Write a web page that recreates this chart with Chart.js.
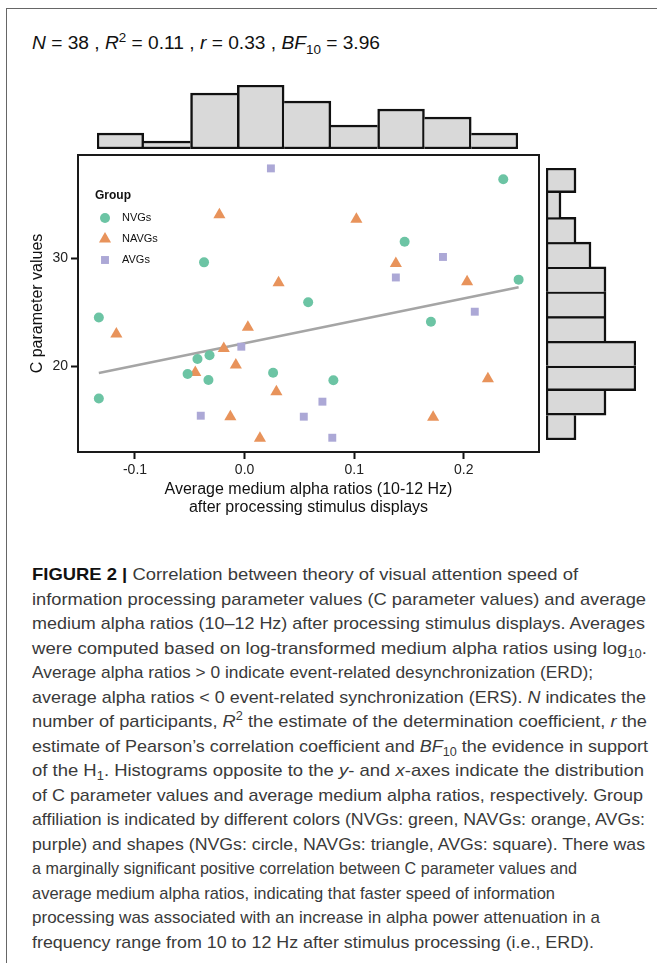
<!DOCTYPE html>
<html>
<head>
<meta charset="utf-8">
<script src="https://cdn.jsdelivr.net/npm/chart.js@4.4.0/dist/chart.umd.min.js"></script>
<style>
    body { margin: 0; width: 657px; height: 963px; background: #fff; position: relative; overflow: hidden; font-family: "Liberation Sans", Arial, sans-serif; }
    #frame { position: absolute; left: 6px; top: 8px; width: 660px; height: 970px; border-left: 1px solid #666; border-top: 1px solid #666; }
    canvas { position: absolute; }
    #stats { position: absolute; left: 32px; top: 32px; font-size: 18px; line-height: 22px; color: #111; white-space: nowrap; transform-origin: 0 0; }
    #stats sup, #stats sub, #caption sup, #caption sub { font-size: 70%; line-height: 0; }
    #caption { position: absolute; left: 32px; top: 563px; font-size: 17px; line-height: 24.5px; color: #3a3a3a; }
    #caption div { white-space: nowrap; height: 24.5px; }
    #caption span { display: inline-block; transform-origin: 0 0; }
    #caption b { color: #111; }
</style>
</head>
<body>
<div id="frame"></div>
<div id="stats"><i>N</i> = 38 , <i>R</i><sup>2</sup> = 0.11 , <i>r</i> = 0.33 , <i>BF</i><sub>10</sub> = 3.96</div>
<canvas id="topHist" width="421" height="64" style="left:97px;top:85px"></canvas>
<canvas id="rightHist" width="90" height="272" style="left:546px;top:168px"></canvas>
<canvas id="scatter" width="657" height="400" style="left:0;top:130px"></canvas>
<div id="caption">
    <div><span><b>FIGURE 2 |</b> Correlation between theory of visual attention speed of</span></div>
    <div><span>information processing parameter values (C parameter values) and average</span></div>
    <div><span>medium alpha ratios (10–12 Hz) after processing stimulus displays. Averages</span></div>
    <div><span>were computed based on log-transformed medium alpha ratios using log<sub>10</sub>.</span></div>
    <div><span>Average alpha ratios &gt; 0 indicate event-related desynchronization (ERD);</span></div>
    <div><span>average alpha ratios &lt; 0 event-related synchronization (ERS). <i>N</i> indicates the</span></div>
    <div><span>number of participants, <i>R</i><sup>2</sup> the estimate of the determination coefficient, <i>r</i> the</span></div>
    <div><span>estimate of Pearson’s correlation coefficient and <i>BF</i><sub>10</sub> the evidence in support</span></div>
    <div><span>of the H<sub>1</sub>. Histograms opposite to the <i>y</i>- and <i>x</i>-axes indicate the distribution</span></div>
    <div><span>of C parameter values and average medium alpha ratios, respectively. Group</span></div>
    <div><span>affiliation is indicated by different colors (NVGs: green, NAVGs: orange, AVGs:</span></div>
    <div><span>purple) and shapes (NVGs: circle, NAVGs: triangle, AVGs: square). There was</span></div>
    <div><span>a marginally significant positive correlation between C parameter values and</span></div>
    <div><span>average medium alpha ratios, indicating that faster speed of information</span></div>
    <div><span>processing was associated with an increase in alpha power attenuation in a</span></div>
    <div><span>frequency range from 10 to 12 Hz after stimulus processing (i.e., ERD).</span></div>
</div>
<script>
// scatter points
const nvgX = [0.236, 0.146, -0.037, 0.250, 0.058, -0.133, 0.170, -0.032, -0.043, -0.052, -0.033, 0.026, 0.081, -0.133];
const nvgY = [37.3, 31.5, 29.6, 28.0, 25.9, 24.5, 24.1, 21.0, 20.65, 19.26, 18.7, 19.38, 18.68, 17.0];
const navgX = [-0.023, 0.102, 0.138, 0.031, 0.203, -0.117, 0.003, -0.019, -0.008, -0.045, 0.029, 0.222, -0.013, 0.172, 0.014];
const navgY = [34.0, 33.6, 29.5, 27.7, 27.8, 22.96, 23.58, 21.63, 20.09, 19.41, 17.62, 18.83, 15.31, 15.25, 13.31];
const avgX = [0.024, 0.181, 0.138, 0.210, -0.003, -0.040, 0.054, 0.071, 0.080];
const avgY = [38.3, 30.1, 28.2, 25.03, 21.79, 15.4, 15.31, 16.7, 13.36];

// fitted regression line end points
const trendX = [-0.133, 0.250];
const trendY = [19.35, 27.3];

const xTicks = [-0.1, 0, 0.1, 0.2];
const xTickLabels = ['-0.1', '0.0', '0.1', '0.2'];
const yTicks = [20, 30];

// marginal histograms
const xBins = ['-0.135', '-0.092', '-0.050', '-0.007', '0.036', '0.079', '0.121', '0.164', '0.207'];
const xCounts = [2, 1, 7, 8, 6, 3, 5, 4, 2];
const yBins = ['13.2', '15.4', '17.7', '20.0', '22.3', '24.6', '26.9', '29.2', '31.5', '33.8', '36.1'];
const yCounts = [2, 4, 6, 6, 4, 4, 4, 3, 2, 1, 2];

const groupNames = ['NVGs', 'NAVGs', 'AVGs'];
const groupColors = ['#6cc4a4', '#e8935b', '#aca8d6'];
const groupShapes = ['circle', 'triangle', 'rect'];
const groupRadius = [5, 7, 5.6];

Chart.defaults.font.family = '"Liberation Sans", Arial, sans-serif';
Chart.defaults.animation = false;

function toPoints(xs, ys) {
    return xs.map((x, i) => ({ x: x, y: ys[i] }));
}

function drawMarker(ctx, shape, x, y, r) {
    ctx.beginPath();
    if (shape === 'circle') {
        ctx.arc(x, y, r, 0, Math.PI * 2);
    } else if (shape === 'triangle') {
        ctx.moveTo(x, y - r);
        ctx.lineTo(x + r * 0.866, y + r / 2);
        ctx.lineTo(x - r * 0.866, y + r / 2);
        ctx.closePath();
    } else {
        const s = r * Math.SQRT1_2;
        ctx.rect(x - s, y - s, 2 * s, 2 * s);
    }
    ctx.fill();
}

// full box round the plot area
const boxPlugin = {
    id: 'box',
    afterDraw(chart) {
        const { ctx, chartArea: a } = chart;
        ctx.save();
        ctx.strokeStyle = '#1a1a1a';
        ctx.lineWidth = 2;
        ctx.strokeRect(a.left, a.top, a.right - a.left, a.bottom - a.top);
        ctx.restore();
    }
};

// "Group" legend drawn inside the plot
const legendPlugin = {
    id: 'groupLegend',
    afterDatasetsDraw(chart) {
        const ctx = chart.ctx;
        const a = chart.chartArea;
        const left = a.left + 17;
        const top = a.top + 41;
        ctx.save();
        ctx.textBaseline = 'middle';
        ctx.fillStyle = '#111';
        ctx.font = 'bold 12px "Liberation Sans", Arial, sans-serif';
        ctx.fillText('Group', left, top);
        ctx.font = '11px "Liberation Sans", Arial, sans-serif';
        groupNames.forEach((name, i) => {
            const y = top + 22 + i * 21;
            ctx.fillStyle = groupColors[i];
            drawMarker(ctx, groupShapes[i], left + 10, y, groupRadius[i]);
            ctx.fillStyle = '#111';
            ctx.fillText(name, left + 27, y);
        });
        ctx.restore();
    }
};

const groupSets = [toPoints(nvgX, nvgY), toPoints(navgX, navgY), toPoints(avgX, avgY)].map((pts, i) => ({
    type: 'scatter',
    label: groupNames[i],
    data: pts,
    backgroundColor: groupColors[i],
    borderWidth: 0,
    pointStyle: groupShapes[i],
    pointRadius: groupRadius[i],
    order: 1
}));

new Chart(document.getElementById('scatter'), {
    type: 'scatter',
    data: {
        datasets: [{
            type: 'line',
            label: 'fit',
            data: toPoints(trendX, trendY),
            borderColor: '#a5a5a5',
            borderWidth: 2.5,
            pointRadius: 0,
            order: 2
        }].concat(groupSets)
    },
    options: {
        responsive: false,
        devicePixelRatio: 1,
        layout: { padding: { top: 25, right: 118, bottom: 8, left: 0 } },
        plugins: { legend: { display: false }, tooltip: { enabled: false } },
        scales: {
            x: {
                type: 'linear',
                min: -0.152,
                max: 0.2686,
                afterBuildTicks: s => { s.ticks = xTicks.map(v => ({ value: v })); },
                afterFit: s => { s.height = 70; },
                grid: { drawOnChartArea: false, tickLength: 7, tickWidth: 2, tickColor: '#111' },
                border: { display: false },
                ticks: { font: { size: 14 }, color: '#222', padding: 3, callback: (v, i) => xTickLabels[i] },
                title: {
                    display: true,
                    text: ['Average medium alpha ratios (10-12 Hz)', 'after processing stimulus displays'],
                    font: { size: 16, lineHeight: 1.1 },
                    color: '#111',
                    padding: { top: 0, bottom: 6 }
                }
            },
            y: {
                type: 'linear',
                min: 12.04,
                max: 39.54,
                afterBuildTicks: s => { s.ticks = yTicks.map(v => ({ value: v })); },
                afterFit: s => { s.width = 78; },
                grid: { drawOnChartArea: false, tickLength: 7, tickWidth: 2, tickColor: '#111' },
                border: { display: false },
                ticks: { font: { size: 14 }, color: '#222', padding: 3 },
                title: {
                    display: true,
                    text: 'C parameter values',
                    font: { size: 16, lineHeight: 1.2 },
                    color: '#111',
                    padding: { top: 28, bottom: 0 }
                }
            }
        }
    },
    plugins: [boxPlugin, legendPlugin]
});

// each shared edge between two bins is drawn once, by the taller bin
const histLine = 2.5;
function edgeBefore(d, i) { return (i === 0 || d[i - 1] < d[i]) ? histLine : 0; }
function edgeAfter(d, i) { return (i === d.length - 1 || d[i + 1] <= d[i]) ? histLine : 0; }

new Chart(document.getElementById('topHist'), {
    type: 'bar',
    data: {
        labels: xBins,
        datasets: [{
            data: xCounts,
            backgroundColor: '#d9d9d9',
            borderColor: '#111',
            borderSkipped: false,
            borderWidth: ctx => {
                const d = ctx.dataset.data, i = ctx.dataIndex;
                return { top: histLine, bottom: histLine, left: edgeBefore(d, i), right: edgeAfter(d, i) };
            },
            barPercentage: 1,
            categoryPercentage: 1
        }]
    },
    options: {
        responsive: false,
        devicePixelRatio: 1,
        layout: { padding: 0 },
        plugins: { legend: { display: false }, tooltip: { enabled: false } },
        scales: {
            x: { display: false },
            y: { display: false, min: 0, max: 8 }
        }
    }
});

new Chart(document.getElementById('rightHist'), {
    type: 'bar',
    data: {
        labels: yBins,
        datasets: [{
            data: yCounts,
            backgroundColor: '#d9d9d9',
            borderColor: '#111',
            borderSkipped: false,
            borderWidth: ctx => {
                const d = ctx.dataset.data, i = ctx.dataIndex;
                return { left: histLine, right: histLine, bottom: edgeBefore(d, i), top: edgeAfter(d, i) };
            },
            barPercentage: 1,
            categoryPercentage: 1
        }]
    },
    options: {
        indexAxis: 'y',
        responsive: false,
        devicePixelRatio: 1,
        layout: { padding: 0 },
        plugins: { legend: { display: false }, tooltip: { enabled: false } },
        scales: {
            x: { display: false, min: 0, max: 6 },
            y: { display: false, reverse: true }
        }
    }
});

// right ends of the caption lines in the figure, so each line is squeezed to fit
const captionEnds = [578, 646, 645, 647, 593, 646, 647, 648, 644, 643, 645, 645, 577, 555, 600, 594];

function fitWidth(el, target) {
    const w = el.getBoundingClientRect().width;
    el.style.transform = 'scaleX(' + (target / w) + ')';
}
document.querySelectorAll('#caption span').forEach((span, i) => {
    fitWidth(span, captionEnds[i] - 32);
});
fitWidth(document.getElementById('stats'), 348);
</script>
</body>
</html>
